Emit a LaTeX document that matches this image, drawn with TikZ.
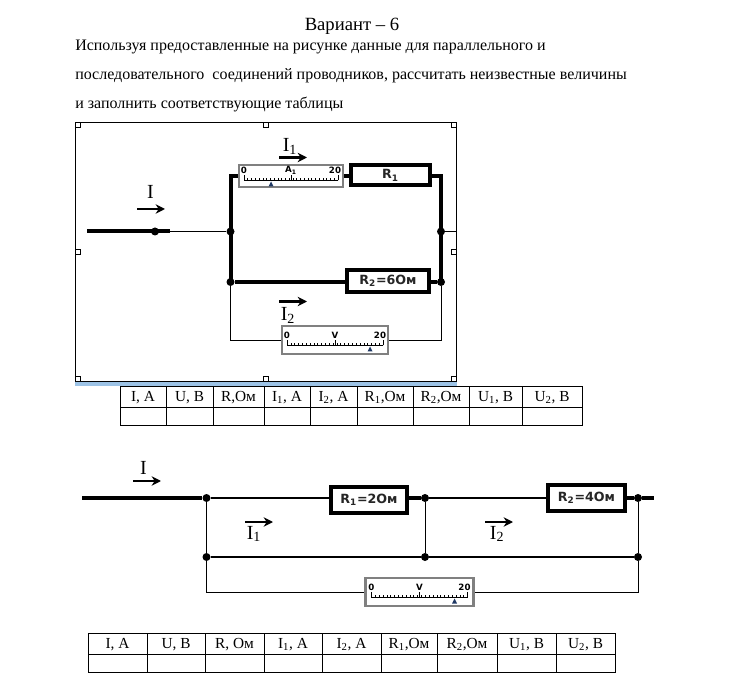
\documentclass[tikz,border=0pt]{standalone}
\usepackage{fontspec}
\setmainfont{Liberation Serif}
\newfontfamily\schemefont{DejaVu Sans}
\usetikzlibrary{arrows.meta}
\definecolor{framegray}{RGB}{128,128,128}
\definecolor{stripblue}{RGB}{157,195,230}
\definecolor{needleblue}{RGB}{31,56,100}
\tikzset{
  textline/.style={anchor=base west, inner sep=0pt, font=\fontsize{12}{14}\selectfont},
  junction/.style={circle, fill=black, inner sep=0pt, minimum size=6pt},
  resbox/.style={draw, line width=3pt, fill=white, inner sep=0pt, text=black!85, font=\schemefont\bfseries\fontsize{9.5}{11}\selectfont},
  meterbox/.style={draw=framegray, line width=1.6pt, fill=white, inner sep=0pt},
  thickwire/.style={line width=3pt},
  midwire/.style={line width=2pt},
  thinwire/.style={line width=0.6pt},
  currarrow/.style={line width=1.6pt, -{Stealth[length=7pt,width=7pt]}},
  currlabel/.style={inner sep=0pt, font=\fontsize{15}{16}\selectfont},
  handle/.style={draw, fill=white, line width=0.4pt, inner sep=0pt, minimum size=3.6pt},
  tabtext/.style={inner sep=0pt, font=\fontsize{11.5}{13}\selectfont}
}
% scale with ticks, the numbers and the needle: name, letter, half length, baseline, needle
\newcommand{\meterface}[5]{
  \begin{scope}[shift={(#1.center)}]
    \draw[line width=0.5pt] (-#3,#4) -- (#3,#4);
    \foreach \t in {0,...,25}{
      \draw[line width=0.4pt] ({-#3+\t*2*#3/25},#4) -- ++(0,-2.5);
    }
    \foreach \t in {0,1,2}{
      \draw[line width=0.5pt] ({-#3+\t*#3},#4) -- ++(0,-5.5);
    }
    \node[inner sep=0pt, font=\schemefont\bfseries\fontsize{6.5}{7}\selectfont] (#1zero) at (-#3,#4-10) {0};
    \node[inner sep=0pt, font=\schemefont\bfseries\fontsize{6.5}{7}\selectfont] (#1name) at (0,#4-10) {#2};
    \node[inner sep=0pt, font=\schemefont\bfseries\fontsize{6.5}{7}\selectfont] (#1max) at (#3-3,#4-10) {20};
    \fill[needleblue] (#5,#4+1) -- ++(-2.5,5) -- ++(5,0) -- cycle;
  \end{scope}
}
\begin{document}
\begin{tikzpicture}[x=0.75pt,y=-0.75pt]
  \useasboundingbox (0,0) rectangle (732,695);
  % heading and task
  \node[anchor=base, inner sep=0pt, font=\fontsize{14}{16}\selectfont] (title) at (352,30.5) {Вариант – 6};
  \node[textline] (lineA) at (75,50.5) {Используя предоставленные на рисунке данные для параллельного и};
  \node[textline] (lineB) at (75,79.5) {последовательного \ соединений проводников, рассчитать неизвестные величины};
  \node[textline] (lineC) at (75,108.5) {и заполнить соответствующие таблицы};
  % picture frame
  \fill[stripblue] (75,381.5) rectangle (457,385.5);
  \draw[line width=0.6pt] (75.5,122.5) rectangle (456.5,381.5);
  \foreach \hx/\hy in {78/125,266/125,454/125,78/252,454/252,78/379,266/379,454/379}{
    \node[handle] (h\hx\hy) at (\hx,\hy) {};
  }
  % first circuit
  \node[junction] (inA) at (155,231.5) {};
  \node[junction] (jLeft) at (230.5,231.5) {};
  \node[junction] (jRight) at (441,231.5) {};
  \node[junction] (jLow) at (230.5,282) {};
  \node[junction] (jLowR) at (441,282) {};
  \node[meterbox, minimum width=78pt, minimum height=17pt] (ammA) at (291,176) {};
  \meterface{ammA}{A\textsubscript{1}}{47}{4.5}{-20}
  \node[meterbox, minimum width=80pt, minimum height=21pt] (voltA) at (335,340) {};
  \meterface{voltA}{V}{48}{5.5}{35}
  \node[resbox, minimum width=59pt, minimum height=15pt] (resA) at (390.5,175.5) {R\textsubscript{1}};
  \node[resbox, minimum width=61pt, minimum height=16pt] (resB) at (388,281) {R\textsubscript{2}=6Ом};
  \coordinate (startA) at (87,231.5);
  \coordinate (stubA) at (170,231.5);
  \coordinate (endA) at (456,231.5);
  \draw[thickwire] (startA) -- (stubA);
  \draw[line width=1.2pt] (stubA) -- (jLeft);
  \draw[line width=1.2pt] (jRight) -- (endA);
  \draw[thickwire] (jLow.center) -- (jLeft.center) |- (ammA.west);
  \draw[thickwire] (ammA.east) -- (resA.west |- ammA.east);
  \draw[thickwire] (resA.east |- ammA.east) -| (jRight.center) -- (jLowR.center);
  \draw[line width=2.4pt] (jLow) -- (resB.west |- jLow);
  \draw[line width=2.4pt] (resB.east |- jLowR) -- (jLowR);
  \draw[thinwire] (jLow) |- (voltA.west);
  \draw[thinwire] (jLowR) |- (voltA.east);
  % second circuit
  \node[junction] (jIn) at (206.5,498) {};
  \node[junction] (jMid) at (425,498) {};
  \node[junction] (jOut) at (638,498) {};
  \node[junction] (jInB) at (206.5,557) {};
  \node[junction] (jMidB) at (425,557) {};
  \node[junction] (jOutB) at (638,557) {};
  \node[resbox, minimum width=57pt, minimum height=19pt] (resC) at (369,500) {R\textsubscript{1}=2Ом};
  \node[resbox, minimum width=58pt, minimum height=19pt] (resD) at (586.5,498) {R\textsubscript{2}=4Ом};
  \node[meterbox, minimum width=81pt, minimum height=21pt] (voltB) at (419.5,592) {};
  \meterface{voltB}{V}{48}{5.5}{35}
  \coordinate (startB) at (82,498);
  \coordinate (endB) at (654,498);
  \draw[thickwire] (startB) -- (jIn);
  \draw[midwire] (jIn) -- (resC.west |- jIn);
  \draw[thickwire] (resC.east |- jMid) -- (jMid);
  \draw[midwire] (jMid) -- (resD.west |- jMid);
  \draw[thickwire] (resD.east |- jOut) -- (jOut);
  \draw[thickwire] (jOut) -- (endB);
  \draw[thinwire] (jIn) -- (jInB);
  \draw[thinwire] (jMid) -- (jMidB);
  \draw[thinwire] (jOut) -- (jOutB);
  \draw[line width=1.1pt] (jInB) -- (jMidB);
  \draw[line width=1.1pt] (jMidB) -- (jOutB);
  \draw[thinwire] (jInB) |- (voltB.west);
  \draw[thinwire] (jOutB) |- (voltB.east);
  % currents
  \foreach \nm/\x/\y in {cI/137/209,cIa/279/157.5,cIb/279/301.5,cII/133/481,cIIa/245/522,cIIb/485/522}{
    \coordinate (\nm s) at (\x,\y);
    \coordinate (\nm e) at (\x+28,\y);
    \draw[currarrow] (\nm s) -- (\nm e);
  }
  \node[currlabel] (lbI) at (150.5,191.5) {I};
  \node[currlabel] (lbIa) at (290,146.5) {I\textsubscript{1}};
  \node[currlabel] (lbIb) at (288,315.5) {I\textsubscript{2}};
  \node[currlabel] (lbII) at (143.5,468) {I};
  \node[currlabel] (lbIIa) at (254,534) {I\textsubscript{1}};
  \node[currlabel] (lbIIb) at (497,534) {I\textsubscript{2}};
  % tables
  \foreach \xa/\xb/\txt in {120/166/{I, A},166/213/{U, В},213/264/{R,Ом},264/310/{I\textsubscript{1}, A},310/357/{I\textsubscript{2}, A},357/413/{R\textsubscript{1},Ом},413/469/{R\textsubscript{2},Ом},469/522/{U\textsubscript{1}, В},522/582/{U\textsubscript{2}, В}}{
    \draw[line width=0.6pt] (\xa,386.5) rectangle (\xb,425.5);
    \draw[line width=0.6pt] (\xa,407.5) -- (\xb,407.5);
    \node[tabtext, anchor=base] (hdA\xa) at ({(\xa+\xb)/2},401) {\txt};
  }
  \foreach \xa/\xb/\txt in {88/147/{I, A},147/205/{U, В},205/264/{R, Ом},264/322/{I\textsubscript{1}, A},322/381/{I\textsubscript{2}, A},381/437/{R\textsubscript{1},Ом},437/497/{R\textsubscript{2},Ом},497/556/{U\textsubscript{1}, В},556/615/{U\textsubscript{2}, В}}{
    \draw[line width=0.6pt] (\xa,633.5) rectangle (\xb,672.5);
    \draw[line width=0.6pt] (\xa,654.5) -- (\xb,654.5);
    \node[tabtext, anchor=base] (hdB\xa) at ({(\xa+\xb)/2},648) {\txt};
  }
\end{tikzpicture}
\end{document}
